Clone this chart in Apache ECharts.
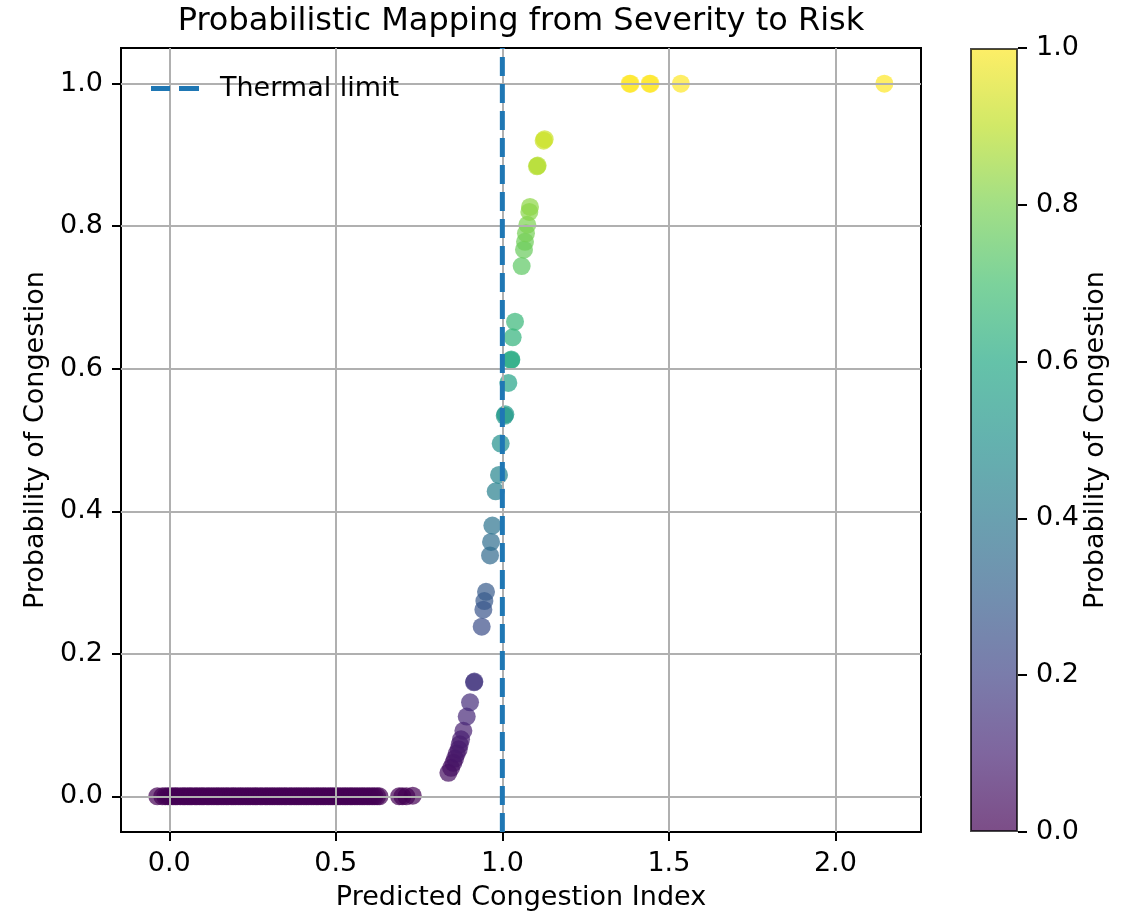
<!DOCTYPE html>
<html><head><meta charset="utf-8">
<script src="https://cdn.jsdelivr.net/npm/echarts@6/dist/echarts.min.js"></script>
<style>html,body{margin:0;padding:0;background:#fff}#c{width:1127px;height:913px}</style>
</head><body><div id="c"></div>
<script>
const chartTitle = 'Probabilistic Mapping from Severity to Risk';
const xName = 'Predicted Congestion Index';
const yName = 'Probability of Congestion';
const cbName = 'Probability of Congestion';
const legendName = 'Thermal limit';
const xTicks = [0.0, 0.5, 1.0, 1.5, 2.0];
const yTicks = [0.0, 0.2, 0.4, 0.6, 0.8, 1.0];
const thermalLimit = 1.0;

// predicted congestion index (x) and probability of congestion (y)
const severity = [
  -0.036, -0.021, -0.012, -0.004, 0.003, 0.011, 0.018, 0.024, 0.033, 0.041,
  0.047, 0.055, 0.062, 0.068, 0.077, 0.083, 0.091, 0.098, 0.104, 0.113,
  0.119, 0.127, 0.134, 0.142, 0.148, 0.156, 0.163, 0.171, 0.177, 0.186,
  0.192, 0.199, 0.207, 0.214, 0.221, 0.229, 0.236, 0.243, 0.251, 0.258,
  0.264, 0.273, 0.279, 0.288, 0.294, 0.302, 0.309, 0.316, 0.324, 0.331,
  0.338, 0.346, 0.352, 0.361, 0.367, 0.375, 0.382, 0.389, 0.396, 0.404,
  0.411, 0.418, 0.426, 0.433, 0.441, 0.447, 0.455, 0.462, 0.469, 0.477,
  0.484, 0.491, 0.499, 0.506, 0.513, 0.521, 0.528, 0.535, 0.543, 0.549,
  0.557, 0.564, 0.572, 0.579, 0.586, 0.594, 0.601, 0.609, 0.616, 0.624,
  0.631, 0.690, 0.700, 0.712, 0.731,
  0.838, 0.846, 0.853, 0.858, 0.863, 0.869, 0.872, 0.876, 0.883, 0.893,
  0.903, 0.915, 0.916,
  0.938, 0.943, 0.946, 0.951, 0.963, 0.966, 0.970, 0.980, 0.990, 0.995,
  1.007, 1.009, 1.018, 1.026, 1.027, 1.031, 1.038,
  1.058, 1.065, 1.068, 1.071, 1.075, 1.081, 1.083,
  1.104, 1.106, 1.124, 1.127,
  1.382, 1.385, 1.442, 1.445, 1.536, 2.147
];
const probability = [
  0, 0, 0, 0, 0, 0, 0, 0, 0, 0,
  0, 0, 0, 0, 0, 0, 0, 0, 0, 0,
  0, 0, 0, 0, 0, 0, 0, 0, 0, 0,
  0, 0, 0, 0, 0, 0, 0, 0, 0, 0,
  0, 0, 0, 0, 0, 0, 0, 0, 0, 0,
  0, 0, 0, 0, 0, 0, 0, 0, 0, 0,
  0, 0, 0, 0, 0, 0, 0, 0, 0, 0,
  0, 0, 0, 0, 0, 0, 0, 0, 0, 0,
  0, 0, 0, 0, 0, 0, 0, 0, 0, 0,
  0, 0, 0, 0, 0.001,
  0.033, 0.040, 0.047, 0.053, 0.060, 0.066, 0.073, 0.080, 0.092, 0.112,
  0.132, 0.160, 0.161,
  0.238, 0.262, 0.274, 0.287, 0.338, 0.357, 0.380, 0.428, 0.451, 0.495,
  0.534, 0.536, 0.580, 0.612, 0.613, 0.644, 0.666,
  0.744, 0.767, 0.778, 0.790, 0.802, 0.820, 0.827,
  0.884, 0.885, 0.920, 0.922,
  1.0, 1.0, 1.0, 1.0, 1.0, 1.0
];

const viridis = ['#440154','#482475','#414487','#355f8d','#2a788e','#21918c','#22a884','#44bf70','#7ad151','#bddf26','#fde725'];

const points = severity.map((x, i) => [x, probability[i]]);
const FONT = 'DejaVu Sans';
const FS = 27;
const fmt = v => Number(v).toFixed(1);

const chart = echarts.init(document.getElementById('c'), null, {renderer: 'canvas'});
chart.setOption({
  animation: false,
  backgroundColor: '#fff',
  title: {
    text: chartTitle, left: 521, top: 6, textAlign: 'center', padding: 0,
    textStyle: {fontFamily: FONT, fontSize: 32, fontWeight: 'normal', color: '#000'}
  },
  legend: {
    data: [{name: legendName, icon: 'path://M0,0H19V5H0ZM28,0H48V5H28Z'}],
    left: 146, top: 70, itemWidth: 48, itemHeight: 5,
    itemStyle: {color: '#1f77b4', borderWidth: 0},
    lineStyle: {width: 0},
    textStyle: {fontFamily: FONT, fontSize: FS, color: '#000', padding: [0, 0, 0, 16]}
  },
  grid: [
    {left: 121, right: 206, top: 48, bottom: 81, show: true, backgroundColor: '#fff', borderColor: '#000', borderWidth: 2, outerBoundsMode: 'none', containLabel: false},
    {left: 970, width: 48, top: 48, bottom: 81, show: false, outerBoundsMode: 'none', containLabel: false}
  ],
  visualMap: {
    show: false, seriesIndex: 0, dimension: 1, min: 0, max: 1,
    inRange: {color: viridis}
  },
  xAxis: [
    {
      type: 'value', gridIndex: 0, min: -0.145, max: 2.257, z: 3,
      name: xName, nameLocation: 'middle', nameGap: 52,
      nameTextStyle: {fontFamily: FONT, fontSize: FS, color: '#000'},
      axisLine: {show: false, onZero: false},
      axisTick: {show: true, customValues: xTicks, length: 9, lineStyle: {color: '#000', width: 2}},
      axisLabel: {customValues: xTicks, formatter: fmt, margin: 18, fontFamily: FONT, fontSize: FS, color: '#000'},
      splitLine: {show: true, lineStyle: {color: '#b0b0b0', width: 2}}
    },
    {type: 'category', gridIndex: 1, data: ['cb'], show: false}
  ],
  yAxis: [
    {
      type: 'value', gridIndex: 0, min: -0.05, max: 1.05, z: 3,
      name: yName, nameLocation: 'middle', nameGap: 72, nameRotate: 90,
      nameTextStyle: {fontFamily: FONT, fontSize: FS, color: '#000'},
      axisLine: {show: false, onZero: false},
      axisTick: {show: true, customValues: yTicks, length: 9, lineStyle: {color: '#000', width: 2}},
      axisLabel: {customValues: yTicks, formatter: fmt, margin: 18, fontFamily: FONT, fontSize: FS, color: '#000'},
      splitLine: {show: true, lineStyle: {color: '#b0b0b0', width: 2}}
    },
    {
      type: 'value', gridIndex: 1, min: 0, max: 1, interval: 0.2, position: 'right', z: 3,
      name: cbName, nameLocation: 'middle', nameGap: 62, nameRotate: 90,
      nameTextStyle: {fontFamily: FONT, fontSize: FS, color: '#000'},
      axisLine: {show: false},
      axisTick: {show: true, length: 9, lineStyle: {color: '#000', width: 2}},
      axisLabel: {formatter: fmt, margin: 18, fontFamily: FONT, fontSize: FS, color: '#000'},
      splitLine: {show: false}
    }
  ],
  series: [
    {
      type: 'scatter', xAxisIndex: 0, yAxisIndex: 0, data: points, z: 2,
      symbolSize: 18, itemStyle: {opacity: 0.7}
    },
    {
      name: legendName, type: 'line', xAxisIndex: 0, yAxisIndex: 0, z: 4,
      data: [[thermalLimit, -0.05], [thermalLimit, 1.05]], symbol: 'none',
      lineStyle: {color: '#1f77b4', width: 5, type: [19, 8]},
      itemStyle: {color: '#1f77b4'}
    },
    {
      type: 'bar', xAxisIndex: 1, yAxisIndex: 1, data: [1.0], barWidth: '100%', z: 2,
      itemStyle: {
        opacity: 0.7, borderColor: '#000', borderWidth: 2,
        color: new echarts.graphic.LinearGradient(0, 1, 0, 0,
          viridis.map((c, i) => ({offset: i / (viridis.length - 1), color: c})))
      }
    }
  ]
});
</script></body></html>
